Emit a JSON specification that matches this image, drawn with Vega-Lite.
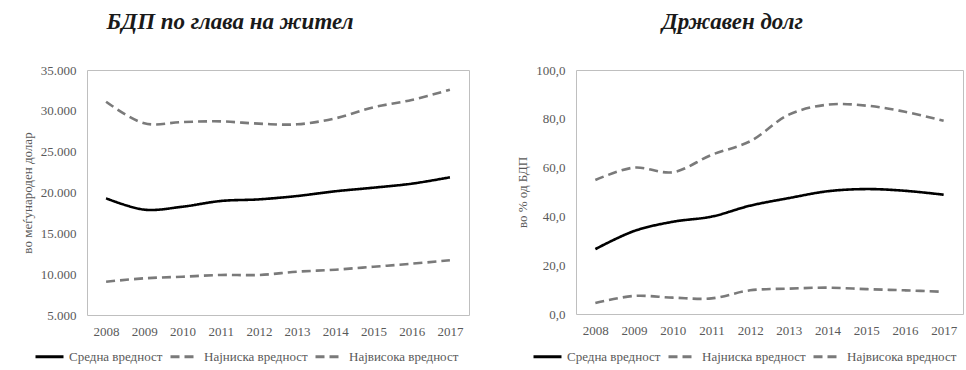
{
  "$schema": "https://vega.github.io/schema/vega-lite/v6.json",
  "padding": {"left": 20, "top": 10, "right": 3, "bottom": 0},
  "background": "white",
  "config": {
    "locale": {"number": {"decimal": ",", "thousands": ".", "grouping": [3], "currency": ["", ""]}},
    "font": "Liberation Serif",
    "view": {"stroke": "#bfbfbf", "strokeWidth": 1},
    "style": {
      "guide-label": {"font": "Liberation Serif", "fontSize": 13, "fill": "#595959"},
      "guide-title": {"font": "Liberation Serif", "fontSize": 13, "fill": "#595959", "fontWeight": "normal"}
    },
    "axis": {"labelFont": "Liberation Serif", "labelFontSize": 13, "labelColor": "#595959", "titleFont": "Liberation Serif", "titleFontSize": 13, "titleColor": "#595959", "titleFontWeight": "normal", "grid": false, "ticks": false, "domain": false},
    "legend": {"labelFont": "Liberation Serif", "labelFontSize": 13, "labelColor": "#595959"},
    "title": {"font": "Liberation Serif", "fontSize": 23, "fontStyle": "italic", "fontWeight": "bold", "color": "#1a1a1a"}
  },
  "data": {
    "values": [
      {"panel": "gdp", "year": "2008", "series": "Средна вредност", "value": 19290},
      {"panel": "gdp", "year": "2009", "series": "Средна вредност", "value": 17900},
      {"panel": "gdp", "year": "2010", "series": "Средна вредност", "value": 18260},
      {"panel": "gdp", "year": "2011", "series": "Средна вредност", "value": 18960},
      {"panel": "gdp", "year": "2012", "series": "Средна вредност", "value": 19160},
      {"panel": "gdp", "year": "2013", "series": "Средна вредност", "value": 19570},
      {"panel": "gdp", "year": "2014", "series": "Средна вредност", "value": 20150},
      {"panel": "gdp", "year": "2015", "series": "Средна вредност", "value": 20590},
      {"panel": "gdp", "year": "2016", "series": "Средна вредност", "value": 21080},
      {"panel": "gdp", "year": "2017", "series": "Средна вредност", "value": 21860},
      {"panel": "gdp", "year": "2008", "series": "Најниска вредност", "value": 9080},
      {"panel": "gdp", "year": "2009", "series": "Најниска вредност", "value": 9490},
      {"panel": "gdp", "year": "2010", "series": "Најниска вредност", "value": 9690},
      {"panel": "gdp", "year": "2011", "series": "Најниска вредност", "value": 9900},
      {"panel": "gdp", "year": "2012", "series": "Најниска вредност", "value": 9900},
      {"panel": "gdp", "year": "2013", "series": "Најниска вредност", "value": 10300},
      {"panel": "gdp", "year": "2014", "series": "Најниска вредност", "value": 10550},
      {"panel": "gdp", "year": "2015", "series": "Најниска вредност", "value": 10910},
      {"panel": "gdp", "year": "2016", "series": "Најниска вредност", "value": 11280},
      {"panel": "gdp", "year": "2017", "series": "Најниска вредност", "value": 11700},
      {"panel": "gdp", "year": "2008", "series": "Највисока вредност", "value": 31120},
      {"panel": "gdp", "year": "2009", "series": "Највисока вредност", "value": 28470},
      {"panel": "gdp", "year": "2010", "series": "Највисока вредност", "value": 28630},
      {"panel": "gdp", "year": "2011", "series": "Највисока вредност", "value": 28710},
      {"panel": "gdp", "year": "2012", "series": "Највисока вредност", "value": 28430},
      {"panel": "gdp", "year": "2013", "series": "Највисока вредност", "value": 28350},
      {"panel": "gdp", "year": "2014", "series": "Највисока вредност", "value": 29080},
      {"panel": "gdp", "year": "2015", "series": "Највисока вредност", "value": 30430},
      {"panel": "gdp", "year": "2016", "series": "Највисока вредност", "value": 31330},
      {"panel": "gdp", "year": "2017", "series": "Највисока вредност", "value": 32590},
      {"panel": "debt", "year": "2008", "series": "Средна вредност", "value": 26.6},
      {"panel": "debt", "year": "2009", "series": "Средна вредност", "value": 34.0},
      {"panel": "debt", "year": "2010", "series": "Средна вредност", "value": 37.8},
      {"panel": "debt", "year": "2011", "series": "Средна вредност", "value": 39.9},
      {"panel": "debt", "year": "2012", "series": "Средна вредност", "value": 44.4},
      {"panel": "debt", "year": "2013", "series": "Средна вредност", "value": 47.5},
      {"panel": "debt", "year": "2014", "series": "Средна вредност", "value": 50.3},
      {"panel": "debt", "year": "2015", "series": "Средна вредност", "value": 51.2},
      {"panel": "debt", "year": "2016", "series": "Средна вредност", "value": 50.5},
      {"panel": "debt", "year": "2017", "series": "Средна вредност", "value": 48.9},
      {"panel": "debt", "year": "2008", "series": "Најниска вредност", "value": 4.5},
      {"panel": "debt", "year": "2009", "series": "Најниска вредност", "value": 7.4},
      {"panel": "debt", "year": "2010", "series": "Најниска вредност", "value": 6.7},
      {"panel": "debt", "year": "2011", "series": "Најниска вредност", "value": 6.4},
      {"panel": "debt", "year": "2012", "series": "Најниска вредност", "value": 9.7},
      {"panel": "debt", "year": "2013", "series": "Најниска вредност", "value": 10.4},
      {"panel": "debt", "year": "2014", "series": "Најниска вредност", "value": 10.8},
      {"panel": "debt", "year": "2015", "series": "Најниска вредност", "value": 10.2},
      {"panel": "debt", "year": "2016", "series": "Најниска вредност", "value": 9.7},
      {"panel": "debt", "year": "2017", "series": "Најниска вредност", "value": 9.1},
      {"panel": "debt", "year": "2008", "series": "Највисока вредност", "value": 54.9},
      {"panel": "debt", "year": "2009", "series": "Највисока вредност", "value": 60.0},
      {"panel": "debt", "year": "2010", "series": "Највисока вредност", "value": 58.1},
      {"panel": "debt", "year": "2011", "series": "Највисока вредност", "value": 65.2},
      {"panel": "debt", "year": "2012", "series": "Највисока вредност", "value": 70.8},
      {"panel": "debt", "year": "2013", "series": "Највисока вредност", "value": 81.7},
      {"panel": "debt", "year": "2014", "series": "Највисока вредност", "value": 85.8},
      {"panel": "debt", "year": "2015", "series": "Највисока вредност", "value": 85.4},
      {"panel": "debt", "year": "2016", "series": "Највисока вредност", "value": 82.9},
      {"panel": "debt", "year": "2017", "series": "Највисока вредност", "value": 79.2}
    ]
  },
  "resolve": {"scale": {"color": "independent", "strokeDash": "independent", "y": "independent", "x": "independent"}},
  "bounds": "flush",
  "spacing": 107,
  "hconcat": [
    {
      "width": 382,
      "height": 245,
      "title": {"text": "БДП по глава на жител", "anchor": "middle", "frame": "group", "offset": 30, "dx": -48},
      "transform": [{"filter": "datum.panel === 'gdp'"}],
      "mark": {"type": "line", "interpolate": "catmull-rom", "strokeWidth": 2.6},
      "encoding": {
        "x": {"field": "year", "type": "ordinal", "scale": {"type": "point", "padding": 0.5}, "axis": {"title": null, "labelAngle": 0, "labelPadding": 10, "labelFont": "Liberation Serif"}},
        "y": {"field": "value", "type": "quantitative", "scale": {"domain": [5000, 35000], "nice": false}, "axis": {"title": "во меѓународен долар", "values": [5000, 10000, 15000, 20000, 25000, 30000, 35000], "format": ",.0f", "labelPadding": 11, "titlePadding": 6, "labelFont": "Liberation Serif", "titleFont": "Liberation Serif"}},
        "color": {"field": "series", "type": "nominal", "scale": {"domain": ["Средна вредност", "Најниска вредност", "Највисока вредност"], "range": ["#000000", "#7a7a7a", "#7a7a7a"]}, "legend": {"title": null, "orient": "none", "legendX": -53, "legendY": 271, "direction": "horizontal", "symbolType": "stroke", "symbolSize": 784, "symbolStrokeWidth": 3, "labelOffset": 4, "columnPadding": 1, "labelFont": "Liberation Serif"}},
        "strokeDash": {"field": "series", "type": "nominal", "scale": {"domain": ["Средна вредност", "Најниска вредност", "Највисока вредност"], "range": [[1, 0], [9, 5], [9, 5]]}, "legend": {"title": null, "orient": "none", "legendX": -53, "legendY": 271, "direction": "horizontal", "symbolType": "stroke", "symbolSize": 784, "symbolStrokeWidth": 3, "labelOffset": 4, "columnPadding": 1, "labelFont": "Liberation Serif"}}
      }
    },
    {
      "width": 387,
      "height": 244,
      "title": {"text": "Државен долг", "anchor": "middle", "frame": "group", "offset": 30, "dx": -37},
      "transform": [{"filter": "datum.panel === 'debt'"}],
      "mark": {"type": "line", "interpolate": "catmull-rom", "strokeWidth": 2.6},
      "encoding": {
        "x": {"field": "year", "type": "ordinal", "scale": {"type": "point", "padding": 0.5}, "axis": {"title": null, "labelAngle": 0, "labelPadding": 10, "labelFont": "Liberation Serif"}},
        "y": {"field": "value", "type": "quantitative", "scale": {"domain": [0, 100], "nice": false}, "axis": {"title": "во % од БДП", "values": [0, 20, 40, 60, 80, 100], "format": ".1f", "labelPadding": 11, "titlePadding": 6, "labelFont": "Liberation Serif", "titleFont": "Liberation Serif"}},
        "color": {"field": "series", "type": "nominal", "scale": {"domain": ["Средна вредност", "Најниска вредност", "Највисока вредност"], "range": ["#000000", "#7a7a7a", "#7a7a7a"]}, "legend": {"title": null, "orient": "none", "legendX": -44, "legendY": 271, "direction": "horizontal", "symbolType": "stroke", "symbolSize": 784, "symbolStrokeWidth": 3, "labelOffset": 4, "columnPadding": 1, "labelFont": "Liberation Serif"}},
        "strokeDash": {"field": "series", "type": "nominal", "scale": {"domain": ["Средна вредност", "Најниска вредност", "Највисока вредност"], "range": [[1, 0], [9, 5], [9, 5]]}, "legend": {"title": null, "orient": "none", "legendX": -44, "legendY": 271, "direction": "horizontal", "symbolType": "stroke", "symbolSize": 784, "symbolStrokeWidth": 3, "labelOffset": 4, "columnPadding": 1, "labelFont": "Liberation Serif"}}
      }
    }
  ]
}
